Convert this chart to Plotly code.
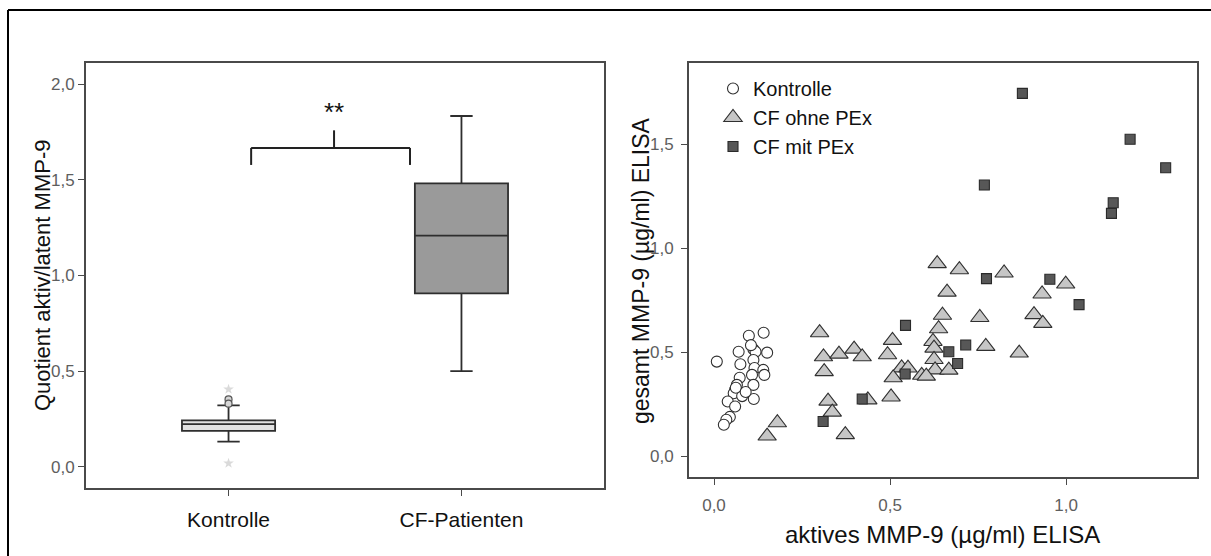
import plotly.graph_objects as go

W, H = 1211, 556

# ---------------- Left panel: Quotient aktiv/latent MMP-9 ----------------
groups = ["Kontrolle", "CF-Patienten"]
group_pos = [0, 1]
q1 = [0.188, 0.907]
median = [0.223, 1.208]
q3 = [0.243, 1.482]
lower_fence = [0.131, 0.500]
upper_fence = [0.321, 1.834]
box_fill = ["#e2e2e2", "#9a9a9a"]

# Kontrolle: outliers (circles) and extreme values (stars)
outlier_y = [0.352, 0.330]
extreme_y = [0.405, 0.018]

ratio_ticks = [0.0, 0.5, 1.0, 1.5, 2.0]
ratio_ticktext = ["0,0", "0,5", "1,0", "1,5", "2,0"]

# significance bracket between the groups
bracket_x = [0.097, 0.779]
bracket_center = 0.453
bracket_level = 1.667
bracket_foot = 1.578
bracket_top = 1.759
sig_label = "**"
sig_y = 1.855

# ---------------- Right panel: aktives vs. gesamt MMP-9 ----------------
kontrolle_x = [0.008, 0.099, 0.141, 0.070, 0.112, 0.118, 0.151, 0.105, 0.112,
               0.075, 0.115, 0.140, 0.143, 0.073, 0.108, 0.065, 0.112, 0.060,
               0.056, 0.080, 0.113, 0.039, 0.060, 0.045, 0.035, 0.028, 0.062,
               0.090]
kontrolle_y = [0.456, 0.580, 0.595, 0.503, 0.515, 0.503, 0.499, 0.535, 0.464,
               0.443, 0.425, 0.416, 0.392, 0.378, 0.392, 0.344, 0.344, 0.320,
               0.304, 0.290, 0.276, 0.264, 0.240, 0.190, 0.176, 0.152, 0.330,
               0.310]

ohne_x = [0.634, 0.697, 0.824, 0.999, 0.662, 0.932, 0.649, 0.755, 0.909, 0.934,
          0.638, 0.300, 0.507, 0.622, 0.772, 0.625, 0.398, 0.311, 0.355, 0.421,
          0.493, 0.867, 0.625, 0.313, 0.533, 0.551, 0.628, 0.667, 0.509, 0.590,
          0.603, 0.324, 0.437, 0.503, 0.336, 0.180, 0.151, 0.373]
ohne_y = [0.927, 0.898, 0.882, 0.829, 0.790, 0.781, 0.679, 0.668, 0.682, 0.640,
          0.614, 0.595, 0.558, 0.553, 0.529, 0.521, 0.516, 0.479, 0.492, 0.479,
          0.489, 0.497, 0.466, 0.408, 0.426, 0.425, 0.416, 0.415, 0.378, 0.390,
          0.386, 0.266, 0.272, 0.286, 0.213, 0.162, 0.098, 0.105]

mit_x = [0.876, 1.182, 1.283, 0.768, 1.134, 1.129, 0.774, 0.954, 1.037, 0.544,
         0.715, 0.667, 0.692, 0.543, 0.421, 0.310]
mit_y = [1.746, 1.525, 1.388, 1.305, 1.220, 1.169, 0.855, 0.852, 0.730, 0.630,
         0.536, 0.503, 0.447, 0.396, 0.276, 0.168]

aktiv_ticks = [0.0, 0.5, 1.0]
aktiv_ticktext = ["0,0", "0,5", "1,0"]
gesamt_ticks = [0.0, 0.5, 1.0, 1.5]
gesamt_ticktext = ["0,0", "0,5", "1,0", "1,5"]

FONT = "Liberation Sans, Arial, sans-serif"
TICK_FONT = dict(family=FONT, size=17, color="#5e5e5e")
FRAME = "#4a4a4a"
EDGE = "#2e2e2e"

fig = go.Figure()

for i in range(len(groups)):
    fig.add_trace(go.Box(
        x=[group_pos[i]], q1=[q1[i]], median=[median[i]], q3=[q3[i]],
        lowerfence=[lower_fence[i]], upperfence=[upper_fence[i]],
        width=0.4, whiskerwidth=0.24, fillcolor=box_fill[i],
        line=dict(color=EDGE, width=1.8), boxpoints=False,
        showlegend=False, hoverinfo="skip", xaxis="x", yaxis="y",
    ))

fig.add_trace(go.Scatter(
    x=[group_pos[0]] * len(outlier_y), y=outlier_y, mode="markers",
    marker=dict(symbol="circle", size=7, color="#d6d6d6",
                line=dict(color="#555555", width=1.2)),
    showlegend=False, hoverinfo="skip", xaxis="x", yaxis="y",
))
fig.add_trace(go.Scatter(
    x=[group_pos[0]] * len(extreme_y), y=extreme_y, mode="markers",
    marker=dict(symbol="star", size=8, color="#dadada",
                line=dict(color="#dadada", width=0)),
    showlegend=False, hoverinfo="skip", xaxis="x", yaxis="y",
))

fig.add_trace(go.Scatter(
    x=kontrolle_x, y=kontrolle_y, mode="markers", name="Kontrolle",
    marker=dict(symbol="circle", size=11, color="white",
                line=dict(color="#303030", width=1.1)),
    xaxis="x2", yaxis="y2",
))
fig.add_trace(go.Scatter(
    x=ohne_x, y=ohne_y, mode="markers", name="CF ohne PEx",
    marker=dict(symbol="triangle-up", size=16, color="#c6c6c6",
                line=dict(color="#303030", width=1.1)),
    xaxis="x2", yaxis="y2",
))
fig.add_trace(go.Scatter(
    x=mit_x, y=mit_y, mode="markers", name="CF mit PEx",
    marker=dict(symbol="square", size=10, color="#575757",
                line=dict(color="#2a2a2a", width=1.1)),
    xaxis="x2", yaxis="y2",
))

shapes = []
# significance bracket
for xb in bracket_x:
    shapes.append(dict(type="line", xref="x", yref="y", x0=xb, x1=xb,
                       y0=bracket_foot, y1=bracket_level,
                       line=dict(color="#222222", width=2)))
shapes.append(dict(type="line", xref="x", yref="y", x0=bracket_x[0], x1=bracket_x[1],
                   y0=bracket_level, y1=bracket_level,
                   line=dict(color="#222222", width=2)))
shapes.append(dict(type="line", xref="x", yref="y", x0=bracket_center, x1=bracket_center,
                   y0=bracket_level, y1=bracket_top,
                   line=dict(color="#222222", width=2)))
# outer frame of the figure
shapes.append(dict(type="line", xref="paper", yref="paper",
                   x0=8 / W, x1=1.0, y0=1 - 10 / H, y1=1 - 10 / H,
                   line=dict(color="black", width=2)))
shapes.append(dict(type="line", xref="paper", yref="paper",
                   x0=8 / W, x1=8 / W, y0=0.0, y1=1 - 10 / H,
                   line=dict(color="black", width=2)))

annotations = [
    dict(text=sig_label, x=bracket_center, y=sig_y, xref="x", yref="y",
         xanchor="center", yanchor="middle", showarrow=False,
         font=dict(family=FONT, size=26, color="#111111")),
    dict(text="Quotient aktiv/latent MMP-9", x=42 / W, y=1 - 276 / H,
         xref="paper", yref="paper", textangle=-90, showarrow=False,
         xanchor="center", yanchor="middle",
         font=dict(family=FONT, size=22, color="#111111")),
    dict(text="gesamt MMP-9 (µg/ml) ELISA", x=641 / W, y=1 - 271 / H,
         xref="paper", yref="paper", textangle=-90, showarrow=False,
         xanchor="center", yanchor="middle",
         font=dict(family=FONT, size=23, color="#111111")),
    dict(text="aktives MMP-9 (µg/ml) ELISA", x=943 / W, y=1 - 534 / H,
         xref="paper", yref="paper", showarrow=False,
         xanchor="center", yanchor="middle",
         font=dict(family=FONT, size=24, color="#111111")),
]

axis_common = dict(showline=True, linecolor=FRAME, linewidth=2, mirror=True,
                   showgrid=False, zeroline=False, ticks="outside",
                   tickcolor=FRAME, tickwidth=1.2, ticklen=6)

fig.update_layout(
    width=W, height=H,
    margin=dict(l=0, r=0, t=0, b=0),
    paper_bgcolor="white", plot_bgcolor="white",
    font=dict(family=FONT, color="#111111"),
    xaxis=dict(domain=[86 / W, 604 / W], range=[-0.612, 1.612],
               tickvals=group_pos, ticktext=groups,
               tickfont=dict(family=FONT, size=21, color="#111111"),
               ticklabelstandoff=6, **axis_common),
    yaxis=dict(domain=[1 - 488 / H, 1 - 63 / H], range=[-0.111, 2.111],
               tickvals=ratio_ticks, ticktext=ratio_ticktext,
               tickfont=TICK_FONT, **axis_common),
    xaxis2=dict(domain=[689 / W, 1197 / W], range=[-0.071, 1.372],
                tickvals=aktiv_ticks, ticktext=aktiv_ticktext,
                tickfont=TICK_FONT, anchor="y2", ticklabelstandoff=6,
                **axis_common),
    yaxis2=dict(domain=[1 - 477 / H, 1 - 63 / H], range=[-0.099, 1.892],
                tickvals=gesamt_ticks, ticktext=gesamt_ticktext,
                tickfont=TICK_FONT, anchor="x2", ticklabelstandoff=4,
                **axis_common),
    showlegend=True,
    legend=dict(x=713 / W, y=1 - 69 / H, xanchor="left", yanchor="top",
                bgcolor="rgba(0,0,0,0)", borderwidth=0,
                font=dict(family=FONT, size=20, color="#111111"),
                itemclick=False, itemdoubleclick=False),
    shapes=shapes,
    annotations=annotations,
)

fig.write_html("out.html")
